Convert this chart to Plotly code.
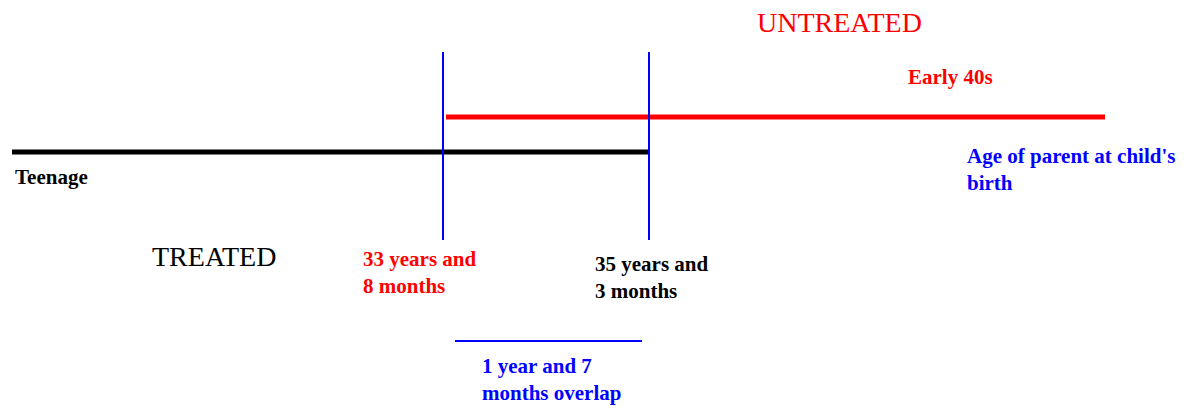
import plotly.graph_objects as go

# Horizontal age bars (diagram units: pixels along the timeline)
bar_names = ["Treated", "Untreated"]
bar_x_start = [12, 446]
bar_x_end = [648, 1105]
bar_y = [152, 117]
bar_colors = ["black", "red"]

# Vertical markers for overlap boundaries
marker_x = [443, 649]
marker_y_top = [52, 52]
marker_y_bottom = [240, 240]

# Overlap bracket
overlap_x = [455, 642]
overlap_y = [341, 341]

# Text labels
label_texts = [
    "UNTREATED", "Early 40s", "Teenage", "TREATED",
    "33 years and<br>8 months", "35 years and<br>3 months",
    "1 year and 7<br>months overlap", "Age of parent at child's<br>birth",
]
label_x = [755, 906, 13, 150, 361, 593, 480, 965]
label_y = [22, 77, 177, 256, 272, 277, 379, 169]
label_colors = ["red", "red", "black", "black", "red", "black", "blue", "blue"]
label_sizes = [28, 21, 21, 28, 21, 21, 21, 21]
label_bold = [False, True, True, False, True, True, True, True]

fig = go.Figure()

for name, x0, x1, y, c in zip(bar_names, bar_x_start, bar_x_end, bar_y, bar_colors):
    fig.add_trace(go.Scatter(x=[x0, x1], y=[y, y], mode="lines", name=name,
                             line=dict(color=c, width=5), showlegend=False,
                             hoverinfo="skip"))

for x, y0, y1 in zip(marker_x, marker_y_top, marker_y_bottom):
    fig.add_trace(go.Scatter(x=[x, x], y=[y0, y1], mode="lines",
                             line=dict(color="blue", width=2), showlegend=False,
                             hoverinfo="skip"))

fig.add_trace(go.Scatter(x=overlap_x, y=overlap_y, mode="lines",
                         line=dict(color="blue", width=2), showlegend=False,
                         hoverinfo="skip"))

for t, x, y, c, s, b in zip(label_texts, label_x, label_y, label_colors, label_sizes, label_bold):
    fig.add_annotation(x=x, y=y, text=f"<b>{t}</b>" if b else t, showarrow=False,
                       xanchor="left", yanchor="middle", align="left",
                       font=dict(family="Liberation Serif", size=s, color=c))

# page body has an 8px margin, so offset the axis ranges accordingly
fig.update_layout(
    width=1192, height=410, margin=dict(l=0, r=0, t=0, b=0),
    paper_bgcolor="white", plot_bgcolor="white",
    xaxis=dict(range=[8, 1200], visible=False, fixedrange=True),
    yaxis=dict(range=[418, 8], visible=False, fixedrange=True),
)

fig.write_html("out.html")
